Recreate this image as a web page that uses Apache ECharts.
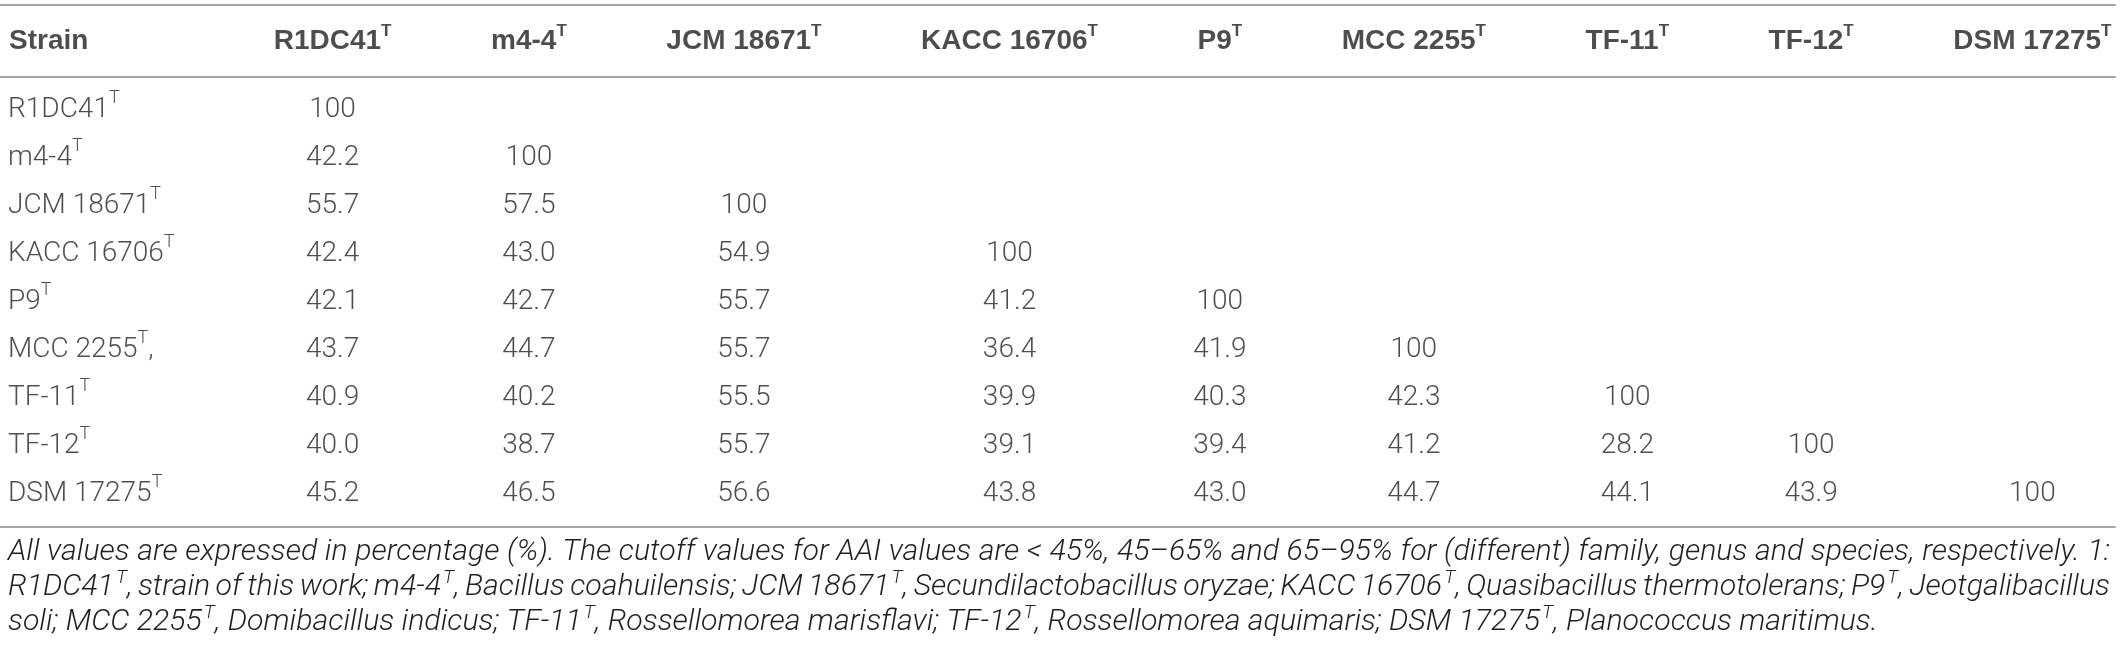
<!DOCTYPE html>
<html>
<head>
<meta charset="utf-8">
<script src="https://cdn.jsdelivr.net/npm/echarts@6/dist/echarts.min.js"></script>
<style>
  html, body { margin: 0; background: #fff; }
  #main { width: 2120px; height: 650px; }
</style>
</head>
<body>
<div id="main"></div>
<script>
// strains (column headers and row labels, all type strains -> superscript T)
const strains = ['R1DC41', 'm4-4', 'JCM 18671', 'KACC 16706', 'P9', 'MCC 2255', 'TF-11', 'TF-12', 'DSM 17275']
const rowTails = ['', '', '', '', '', ',', '', '', '']

// AAI values (%), lower triangle, one row per strain
const aaiR1DC41 = [100]
const aaiM44 = [42.2, 100]
const aaiJCM18671 = [55.7, 57.5, 100]
const aaiKACC16706 = [42.4, 43.0, 54.9, 100]
const aaiP9 = [42.1, 42.7, 55.7, 41.2, 100]
const aaiMCC2255 = [43.7, 44.7, 55.7, 36.4, 41.9, 100]
const aaiTF11 = [40.9, 40.2, 55.5, 39.9, 40.3, 42.3, 100]
const aaiTF12 = [40.0, 38.7, 55.7, 39.1, 39.4, 41.2, 28.2, 100]
const aaiDSM17275 = [45.2, 46.5, 56.6, 43.8, 43.0, 44.7, 44.1, 43.9, 100]
const aaiRows = [aaiR1DC41, aaiM44, aaiJCM18671, aaiKACC16706, aaiP9, aaiMCC2255, aaiTF11, aaiTF12, aaiDSM17275]

const footnoteLines = [
    'All values are expressed in percentage (%). The cutoff values for AAI values are < 45%, 45–65% and 65–95% for (different) family, genus and species, respectively. 1:',
    'R1DC41{s|T}, strain of this work; m4-4{s|T}, Bacillus coahuilensis; JCM 18671{s|T}, Secundilactobacillus oryzae; KACC 16706{s|T}, Quasibacillus thermotolerans; P9{s|T}, Jeotgalibacillus',
    'soli; MCC 2255{s|T}, Domibacillus indicus; TF-11{s|T}, Rossellomorea marisflavi; TF-12{s|T}, Rossellomorea aquimaris; DSM 17275{s|T}, Planococcus maritimus.'
]

const INK = '#231f20'
const RULE = '#a5a5a5'
const PAGE_W = 2115
const LEFT = 8
const RIGHT = 2112

// text measuring, so columns get laid out like the table
const ctx = document.createElement('canvas').getContext('2d')
function textW(str, font) {
    ctx.font = font
    return ctx.measureText(str).width
}
const HEAD_FONT = 'bold 28px "Liberation Sans"'
const HEAD_SUP = 'bold 17px "Liberation Sans"'
const BODY_FONT = '300 28px Roboto'
const BODY_SUP = '300 18px Roboto'

let colW = [Math.max(textW('Strain', HEAD_FONT),
    ...strains.map((s, i) => textW(s, BODY_FONT) + textW('T', BODY_SUP) + textW(rowTails[i], BODY_FONT)))]
strains.forEach(s => colW.push(textW(s, HEAD_FONT) + textW('T', HEAD_SUP) + 1))
let colGap = (RIGHT - LEFT - colW.reduce((a, b) => a + b, 0)) / strains.length
let colStart = [LEFT]
for (let j = 1; j < colW.length; j++) colStart.push(colStart[j - 1] + colW[j - 1] + colGap)
let colCenter = colStart.map((x, j) => x + colW[j] / 2)

// series data
let headerData = [{ value: [LEFT + 1, 0.5], name: 'Strain', align: 'left' }]
strains.forEach((s, j) => headerData.push({ value: [colCenter[j + 1], 0.5], name: '{b|' + s + '}{s|T}' }))

let rowLabelData = strains.map((s, i) => ({ value: [LEFT, i], name: s + '{s|T}' + rowTails[i] }))
let cellData = []
aaiRows.forEach((row, i) => {
    row.forEach((v, j) => {
        cellData.push({ value: [colCenter[j + 1], i], name: v === 100 ? '100' : v.toFixed(1) })
    })
})

// footnote: size so the first line sets naturally across the page, then justify (last line ragged)
let plainFirst = footnoteLines[0].replace(/\{s\|T\}/g, 'T')
let noteSize = Math.floor(25 * (RIGHT - LEFT - 4) / textW(plainFirst, 'italic 300 25px Roboto') * 10) / 10
const NOTE_FONT = 'italic 300 ' + noteSize + 'px Roboto'
const NOTE_SUP = 'italic 300 ' + Math.round(noteSize * 0.62) + 'px Roboto'

function wordW(word) {
    let w = 0
    word.split(/(\{s\|T\})/).forEach(p => {
        if (p === '{s|T}') w += textW('T', NOTE_SUP) + 2
        else if (p) w += textW(p, NOTE_FONT)
    })
    return w
}
let noteGraphics = []
footnoteLines.forEach((line, k) => {
    let words = line.split(' ')
    let widths = words.map(wordW)
    let total = widths.reduce((a, b) => a + b, 0)
    let gap = k < footnoteLines.length - 1 ? (RIGHT - 2 - LEFT - total) / (words.length - 1) : textW(' ', NOTE_FONT)
    let x = LEFT
    words.forEach((w, n) => {
        noteGraphics.push({
            type: 'text',
            x: x,
            y: 552 + k * 35,
            silent: true,
            style: {
                text: w,
                fill: INK,
                fontSize: noteSize,
                fontStyle: 'italic',
                fontWeight: 300,
                fontFamily: 'Roboto',
                lineHeight: 36,
                verticalAlign: 'middle',
                rich: {
                    s: {
                        fontSize: Math.round(noteSize * 0.62), fontStyle: 'italic', fontWeight: 300, fontFamily: 'Roboto',
                        verticalAlign: 'top', lineHeight: 16, padding: [0, 0, 0, 2]
                    }
                }
            }
        })
        x += widths[n] + gap
    })
})

const chart = echarts.init(document.getElementById('main'))

const hiddenY = { type: 'value', show: false }
const ruleAxis = (grid, pos) => ({
    type: 'value', gridIndex: grid, position: pos, min: 0, max: PAGE_W,
    axisLine: { show: true, onZero: false, lineStyle: { color: RULE, width: 2 } },
    axisTick: { show: false }, axisLabel: { show: false }, splitLine: { show: false }
})
const blank = { color: 'rgba(0,0,0,0)' }

chart.setOption({
    animation: false,
    grid: [
        { left: 0, top: 5, width: PAGE_W, height: 72 },
        { left: 0, top: 77, width: PAGE_W, height: 450 }
    ],
    xAxis: [ruleAxis(0, 'top'), ruleAxis(1, 'top'), ruleAxis(1, 'bottom')],
    yAxis: [
        Object.assign({ gridIndex: 0, min: 0, max: 1 }, hiddenY),
        Object.assign({ gridIndex: 1, min: -0.6875, max: 8.6875, inverse: true }, hiddenY)
    ],
    series: [
        {
            type: 'scatter', xAxisIndex: 0, yAxisIndex: 0, symbolSize: 1, itemStyle: blank, silent: true,
            data: headerData.map(d => ({
                value: d.value, name: d.name,
                label: { align: d.align || 'center' }
            })),
            label: {
                show: true, position: 'inside', formatter: p => p.name,
                color: INK, fontSize: 28, fontWeight: 'bold', fontFamily: 'Liberation Sans', lineHeight: 36,
                rich: {
                    b: { fontSize: 28, fontWeight: 'bold', fontFamily: 'Liberation Sans', color: INK, lineHeight: 36 },
                    s: { fontSize: 17, fontWeight: 'bold', fontFamily: 'Liberation Sans', color: INK, verticalAlign: 'top', lineHeight: 17 }
                }
            }
        },
        {
            type: 'scatter', xAxisIndex: 1, yAxisIndex: 1, symbolSize: 1, itemStyle: blank, silent: true,
            data: rowLabelData,
            label: {
                show: true, position: 'inside', align: 'left', formatter: p => p.name,
                color: INK, fontSize: 28, fontWeight: 300, fontFamily: 'Roboto', lineHeight: 42,
                rich: {
                    s: { fontSize: 18, fontWeight: 300, fontFamily: 'Roboto', color: INK, verticalAlign: 'top', lineHeight: 18 }
                }
            }
        },
        {
            type: 'scatter', xAxisIndex: 1, yAxisIndex: 1, symbolSize: 1, itemStyle: blank, silent: true,
            data: cellData,
            label: {
                show: true, position: 'inside', align: 'center', formatter: p => p.name,
                color: INK, fontSize: 28, fontWeight: 300, fontFamily: 'Roboto'
            }
        }
    ],
    graphic: noteGraphics
})
</script>
</body>
</html>
